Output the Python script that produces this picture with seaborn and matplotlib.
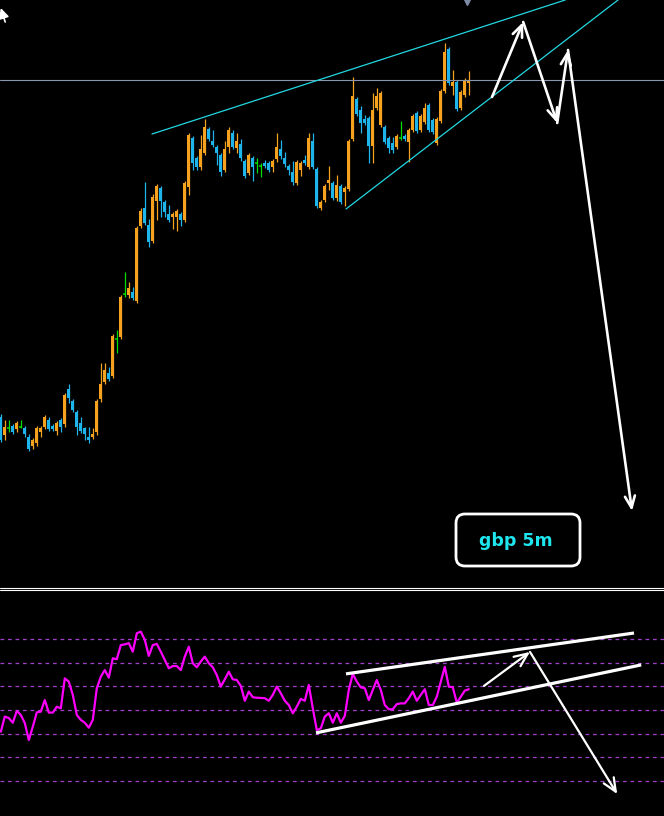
import numpy as np
import seaborn as sns
import matplotlib.pyplot as plt
from matplotlib.lines import Line2D
from matplotlib.patches import FancyBboxPatch
from matplotlib.transforms import IdentityTransform

# GBP 5m candles (price in pips above an arbitrary base)
opens = [171, 153, 160, 162, 159, 161, 160, 151, 142, 145,
         156, 161, 168, 162, 157, 168, 164, 199, 187, 176,
         165, 160, 151, 151, 156, 189, 206, 215, 212, 249,
         251, 294, 293, 296, 287, 362, 380, 363, 347, 387,
         400, 386, 374, 371, 371, 374, 368, 401, 450, 430,
         421, 435, 459, 447, 441, 433, 418, 441, 455, 440,
         444, 427, 415, 430, 425, 422, 425, 425, 421, 429,
         439, 430, 422, 416, 405, 418, 428, 421, 447, 419,
         380, 388, 405, 405, 390, 402, 396, 399, 449, 489,
         478, 469, 470, 442, 480, 463, 461, 450, 445, 441,
         450, 452, 446, 458, 475, 458, 466, 483, 468, 445,
         467, 497, 539, 502, 506, 480, 493, 505]
closes = [148, 161, 160, 156, 165, 161, 154, 139, 148, 160,
          160, 171, 159, 159, 165, 161, 193, 190, 178, 161,
          157, 154, 148, 154, 187, 204, 218, 209, 252, 249,
          291, 294, 300, 290, 360, 377, 365, 346, 391, 402,
          387, 376, 368, 374, 377, 368, 405, 453, 425, 421,
          439, 461, 449, 443, 435, 416, 439, 458, 441, 447,
          430, 412, 433, 421, 425, 422, 422, 418, 427, 441,
          432, 424, 418, 406, 426, 425, 425, 450, 421, 382,
          386, 402, 408, 390, 403, 386, 400, 447, 492, 474,
          465, 465, 442, 478, 492, 495, 446, 440, 438, 452,
          450, 449, 458, 472, 457, 472, 480, 458, 456, 469,
          497, 536, 505, 506, 479, 496, 508, 507]
highs = [174, 168, 168, 164, 167, 168, 162, 154, 150, 162,
         162, 173, 171, 164, 167, 170, 195, 204, 189, 178,
         171, 161, 161, 160, 189, 225, 225, 221, 254, 258,
         293, 316, 306, 301, 362, 380, 406, 369, 394, 404,
         402, 388, 383, 376, 379, 376, 407, 455, 452, 432,
         453, 469, 461, 458, 443, 435, 447, 461, 458, 455,
         449, 429, 435, 432, 430, 425, 428, 427, 429, 455,
         448, 436, 424, 427, 428, 427, 433, 455, 455, 421,
         388, 404, 422, 407, 413, 404, 402, 449, 511, 491,
         482, 473, 472, 495, 500, 497, 463, 452, 451, 454,
         467, 454, 460, 474, 477, 474, 485, 485, 470, 471,
         499, 545, 541, 518, 508, 498, 510, 517]
lows = [146, 148, 156, 154, 156, 160, 151, 137, 139, 142,
        151, 159, 157, 157, 153, 156, 161, 185, 176, 153,
        155, 148, 145, 149, 153, 186, 204, 207, 210, 235,
        249, 291, 290, 288, 285, 360, 363, 341, 345, 368,
        371, 371, 366, 359, 357, 362, 366, 393, 418, 418,
        418, 433, 447, 441, 423, 412, 416, 435, 439, 435,
        427, 410, 413, 407, 415, 411, 420, 416, 416, 426,
        429, 421, 413, 403, 403, 412, 423, 419, 419, 380,
        378, 386, 398, 388, 387, 384, 382, 397, 447, 472,
        455, 463, 425, 425, 478, 461, 444, 435, 435, 439,
        448, 447, 426, 456, 455, 456, 464, 456, 454, 443,
        465, 495, 503, 493, 477, 478, 491, 493]

# RSI values for the same candles
rsi = [40.8, 47.2, 46.6, 44.6, 49.6, 47.9, 44.5, 37.3, 42.9, 49.0,
       49.3, 54.2, 48.9, 48.9, 51.4, 50.7, 63.4, 62.0, 56.4, 47.9,
       45.8, 44.6, 42.5, 45.8, 59.2, 64.1, 66.9, 63.7, 71.9, 71.5,
       77.5, 77.8, 78.3, 74.7, 82.5, 83.2, 79.7, 72.9, 77.5, 78.0,
       74.7, 71.2, 67.7, 68.6, 68.6, 66.9, 72.6, 76.8, 69.8, 68.1,
       70.5, 72.6, 69.8, 68.1, 64.8, 59.9, 63.0, 66.2, 63.0, 62.7,
       60.2, 53.9, 57.8, 55.4, 55.2, 55.1, 55.0, 53.9, 56.4, 59.9,
       57.1, 53.9, 52.1, 48.6, 51.4, 54.7, 53.9, 60.6, 50.7, 41.5,
       42.2, 47.2, 48.6, 44.6, 48.6, 44.6, 47.5, 58.5, 65.3, 62.0,
       59.6, 59.2, 54.2, 58.5, 62.7, 58.5, 52.1, 50.3, 50.3, 52.5,
       52.8, 52.8, 55.0, 57.8, 53.9, 56.4, 58.8, 52.1, 52.1, 55.6,
       62.0, 68.3, 59.9, 59.6, 53.1, 55.6, 58.2, 58.8]
rsi_levels = [20, 30, 40, 50, 60, 70, 80]

# drawn objects (candle index, price) anchors
upper_wedge_x, upper_wedge_y = [37.8, 141.1], [454, 588]
lower_wedge_x, lower_wedge_y = [86.3, 154.3], [379, 588]
resistance = 508
forecast_x = [122.8, 130.6, 139.1, 141.8, 157.8]
forecast_y = [491, 566, 465, 538, 77]
rsi_upper_x, rsi_upper_y = [86.3, 158.3], [65.3, 82.6]
rsi_lower_x, rsi_lower_y = [78.8, 160.1], [40.3, 69.1]
rsi_fc_x, rsi_fc_y = [120.8, 132.3, 154.1], [60.2, 74.6, 14.4]

UP, DOWN, DOJI = '#f7a21e', '#1eb4ec', '#00e000'
CYAN = '#22d8e2'

sns.set_theme(style="dark", rc={"axes.facecolor": "black",
                                "figure.facecolor": "black"})

fig = plt.figure(figsize=(6.64, 8.16), dpi=100, facecolor='black')
ax = fig.add_axes([0, 228 / 816, 1, 588 / 816])
ax2 = fig.add_axes([0, 0, 1, 225 / 816])

idx = np.arange(len(opens))
o, c = np.array(opens), np.array(closes)
cols = np.where(c > o, UP, np.where(c < o, DOWN, DOJI))

# wicks + bodies
ax.vlines(idx, lows, highs, colors=cols, lw=0.9)
body = o != c
ax.bar(idx[body], np.maximum(np.abs(c - o)[body], 1.5), bottom=np.minimum(o, c)[body],
       width=0.8, color=cols[body], linewidth=0, antialiased=False)
ax.hlines(o[~body], idx[~body] - 0.4, idx[~body] + 0.4, colors=DOJI, lw=1.1)

ax.axhline(resistance, color='#8a95b0', lw=0.8)
ax.plot(upper_wedge_x, upper_wedge_y, color=CYAN, lw=0.9)
ax.plot(lower_wedge_x, lower_wedge_y, color=CYAN, lw=0.9)
ax.plot([116.6], [587], marker='v', color='#7f8aa6', ms=6, clip_on=False)
# mouse cursor in the corner
ax.annotate('', xy=(0.0, 580), xytext=(1.1, 566),
            arrowprops=dict(arrowstyle='-|>,head_length=0.5,head_width=0.25',
                            color='white', lw=1.2, shrinkA=0, shrinkB=0))

for k in range(len(forecast_x) - 1):
    ax.annotate('', xy=(forecast_x[k + 1], forecast_y[k + 1]),
                xytext=(forecast_x[k], forecast_y[k]),
                arrowprops=dict(arrowstyle='->,head_length=0.7,head_width=0.3',
                                color='white', lw=1.9, shrinkA=0, shrinkB=0))

ax.set_xlim(-0.2, 165.8)
ax.set_ylim(0, 588)
ax.set_axis_off()

# RSI panel
for lv in rsi_levels:
    ax2.axhline(lv, color='#a040c8', lw=0.9, ls=(0, (3, 3)))
sns.lineplot(x=idx, y=rsi, ax=ax2, color='#ff00ff', lw=1.6)
ax2.plot(rsi_upper_x, rsi_upper_y, color='white', lw=2.3, solid_capstyle='butt')
ax2.plot(rsi_lower_x, rsi_lower_y, color='white', lw=2.3, solid_capstyle='butt')
for k in range(len(rsi_fc_x) - 1):
    ax2.annotate('', xy=(rsi_fc_x[k + 1], rsi_fc_y[k + 1]),
                 xytext=(rsi_fc_x[k], rsi_fc_y[k]),
                 arrowprops=dict(arrowstyle='->,head_length=0.8,head_width=0.35',
                                 color='white', lw=1.6, shrinkA=0, shrinkB=0))
ax2.set_xlim(-0.2, 165.8)
ax2.set_ylim(5.1, 100.4)
ax2.set_axis_off()

# panel separator
for yy in (588.3, 590.3):
    fig.add_artist(Line2D([0, 1], [1 - yy / 816] * 2, transform=fig.transFigure,
                          color='white', lw=0.8))

# label box
fig.add_artist(FancyBboxPatch((456, 816 - 566), 124, 52,
                              boxstyle='round,pad=0,rounding_size=9',
                              transform=IdentityTransform(),
                              fc='black', ec='white', lw=2))
fig.text(516 / 664, 1 - 541 / 816, 'gbp 5m', ha='center', va='center',
         color='#1ee6ee', fontweight='bold', fontsize=12.5)

fig.savefig('out.png', dpi=100, facecolor='black')
